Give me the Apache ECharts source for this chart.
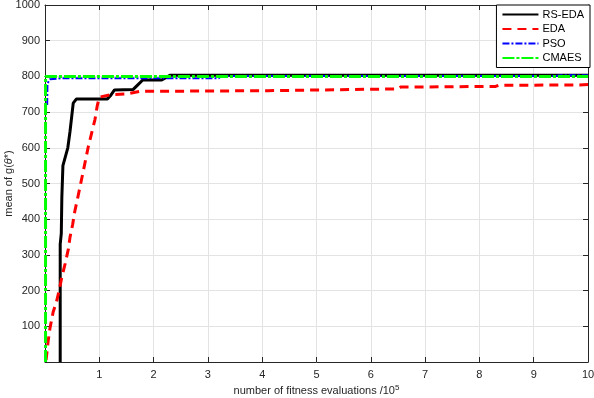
<!DOCTYPE html>
<html>
<head>
<meta charset="utf-8">
<script src="https://cdn.jsdelivr.net/npm/echarts@6/dist/echarts.min.js"></script>
<style>
  html, body { margin: 0; padding: 0; background: #fff; }
  #main { width: 594px; height: 398px; }
</style>
</head>
<body>
<div id="main"></div>
<script>
var xTicks = [0, 1, 2, 3, 4, 5, 6, 7, 8, 9, 10];
var yTicks = [0, 100, 200, 300, 400, 500, 600, 700, 800, 900, 1000];

// [evaluations /1e5, mean of g]
var rsEda = [
    [0.28, 0], [0.28, 330], [0.30, 360], [0.31, 460], [0.33, 550], [0.42, 600],
    [0.46, 645], [0.52, 725], [0.58, 737], [1.15, 737], [1.2, 745], [1.28, 762],
    [1.62, 763], [1.7, 775], [1.8, 790], [2.15, 790], [2.3, 803], [10, 803]
];
var eda = [
    [0.02, 5], [0.055, 55], [0.09, 93], [0.15, 140], [0.21, 168], [0.26, 200],
    [0.31, 238], [0.37, 275], [0.43, 316], [0.46, 349], [0.51, 386], [0.55, 423],
    [0.60, 458], [0.70, 531], [0.80, 605], [0.86, 642], [0.92, 679], [0.96, 716],
    [1.0, 742], [1.23, 749], [1.5, 751], [1.75, 758], [4.1, 760], [4.1, 764],
    [6.5, 765], [6.55, 770], [8.3, 772], [8.35, 775], [9.8, 776], [10, 777]
];
var pso = [
    [0.04, 720], [0.045, 780], [0.09, 792], [0.3, 795], [3.2, 795], [3.25, 801],
    [9.4, 801], [9.5, 803], [10, 803]
];
var cmaes = [
    [0.01, 0], [0.01, 800], [10, 800]
];

var chart = echarts.init(document.getElementById('main'), null, {renderer: 'canvas'});

var fontFam = 'Liberation Sans, Arial, sans-serif';
var axisCol = '#262626';

function boxAxis(extra) {
    var a = {
        type: 'value',
        axisLine: {show: true, onZero: false, lineStyle: {color: axisCol, width: 1}},
        axisTick: {show: true, inside: true, length: 5, lineStyle: {color: axisCol}},
        splitLine: {show: false},
        axisLabel: {show: false}
    };
    for (var k in extra) a[k] = extra[k];
    return a;
}

function hideZero(v) { return v === 0 ? '' : String(v); }

var option = {
    animation: false,
    backgroundColor: '#fff',
    grid: {left: 45, right: 6, top: 5, bottom: 36, containLabel: false, outerBoundsMode: 'none'},
    legend: {
        orient: 'vertical',
        right: 4,
        top: 5,
        itemWidth: 36,
        itemHeight: 10,
        itemGap: 3.5,
        padding: [4, 6, 4, 5],
        borderColor: '#000',
        borderWidth: 1,
        backgroundColor: '#fff',
        itemStyle: {opacity: 0},
        textStyle: {fontFamily: fontFam, fontSize: 11, color: '#000', padding: [0, 0, 0, -1]},
        data: ['RS-EDA', 'EDA', 'PSO', 'CMAES']
    },
    xAxis: [
        {
            type: 'value', min: xTicks[0], max: xTicks[xTicks.length - 1], interval: 1,
            name: '{a|number of fitness evaluations /10}{s|5}',
            nameLocation: 'middle', nameGap: 22, nameMoveOverlap: false,
            nameTextStyle: {
                rich: {
                    a: {fontFamily: fontFam, fontSize: 11, color: '#262626'},
                    s: {fontFamily: fontFam, fontSize: 8, color: '#262626', verticalAlign: 'top', padding: [0, 0, 6, 0]}
                }
            },
            axisLine: {show: true, onZero: false, lineStyle: {color: axisCol}},
            axisTick: {show: true, inside: true, length: 5, lineStyle: {color: axisCol}},
            splitLine: {show: true, lineStyle: {color: '#e3e3e3', width: 1}},
            axisLabel: {fontFamily: fontFam, fontSize: 11, color: '#262626', margin: 7, formatter: hideZero}
        },
        boxAxis({position: 'top', min: 0, max: 10, interval: 1})
    ],
    yAxis: [
        {
            type: 'value', min: yTicks[0], max: yTicks[yTicks.length - 1], interval: 100,
            name: 'mean of g({i|θ}*)',
            nameLocation: 'middle', nameGap: 31, nameRotate: 90, nameMoveOverlap: false,
            nameTextStyle: {
                fontFamily: fontFam, fontSize: 11, color: '#262626',
                rich: {i: {fontFamily: fontFam, fontSize: 11, fontStyle: 'italic', color: '#262626'}}
            },
            axisLine: {show: true, onZero: false, lineStyle: {color: axisCol}},
            axisTick: {show: true, inside: true, length: 5, lineStyle: {color: axisCol}},
            splitLine: {show: true, lineStyle: {color: '#e3e3e3', width: 1}},
            axisLabel: {fontFamily: fontFam, fontSize: 11, color: '#262626', margin: 5, formatter: hideZero}
        },
        boxAxis({position: 'right', min: 0, max: 1000, interval: 100})
    ],
    series: [
        {
            name: 'RS-EDA', type: 'line', data: rsEda, showSymbol: false, symbol: 'none',
            itemStyle: {color: '#000'},
            lineStyle: {color: '#000', width: 3}
        },
        {
            name: 'EDA', type: 'line', data: eda, showSymbol: false, symbol: 'none',
            itemStyle: {color: '#ff0000'},
            lineStyle: {color: '#ff0000', width: 3, type: [9, 6]}
        },
        {
            name: 'PSO', type: 'line', data: pso, showSymbol: false, symbol: 'none',
            itemStyle: {color: '#0000ff'},
            lineStyle: {color: '#0000ff', width: 2, type: [7, 2, 2, 2]}
        },
        {
            name: 'CMAES', type: 'line', data: cmaes, showSymbol: false, symbol: 'none',
            itemStyle: {color: '#00ff00'},
            lineStyle: {color: '#00ff00', width: 3, type: [12, 2, 3, 2]}
        }
    ]
};

chart.setOption(option);
</script>
</body>
</html>
